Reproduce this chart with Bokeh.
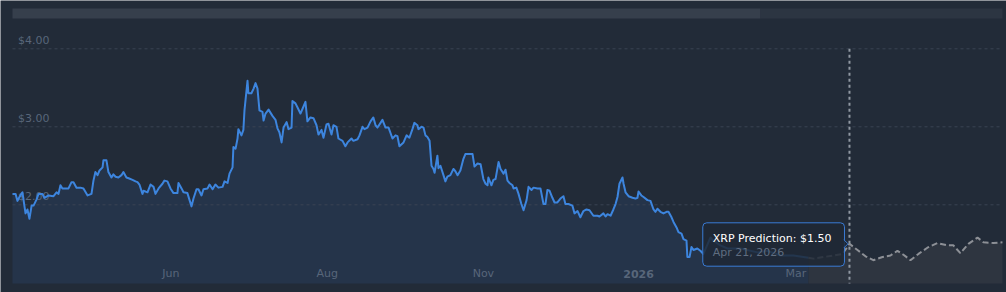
from bokeh.plotting import figure
from bokeh.models import Range1d, Quad
from bokeh.core.properties import value
from bokeh.embed import file_html
from bokeh.resources import INLINE

# ---------------- data (days since start, USD) ----------------
hist_day = [0, 1.4, 2.3, 3.2, 4.1, 4.6, 5.1, 6.0, 6.9, 7.8,
            8.8, 9.7, 11.1, 12.0, 13.8, 14.7, 16.6, 18.9, 20.3, 21.2,
            22.1, 23.0, 24.4, 25.8, 27.2, 28.1, 29.5, 31.3, 32.7, 34.6,
            36.4, 37.3, 38.2, 39.2, 40.1, 41.5, 41.9, 43.3, 44.2, 45.6,
            46.5, 47.5, 48.8, 50.2, 51.1, 52.5, 53.5, 55.3, 56.7, 57.6,
            58.5, 59.9, 60.4, 62.2, 63.6, 65.0, 65.9, 67.3, 69.1, 70.0,
            71.4, 72.8, 74.2, 76.0, 76.5, 77.9, 78.8, 80.6, 81.6, 82.5,
            83.4, 84.8, 85.7, 87.1, 88.0, 89.9, 90.8, 92.2, 93.5, 94.9,
            96.8, 97.7, 99.1, 100.0, 101.4, 101.8, 102.8, 103.7, 104.1, 105.5,
            106.4, 106.9, 108.3, 108.7, 110.1, 111.1, 112.0, 112.9, 113.8, 115.2,
            115.7, 116.6, 118.0, 119.8, 121.2, 122.1, 123.0, 124.0, 124.9, 126.3,
            127.2, 128.6, 129.0, 130.4, 131.3, 132.7, 134.1, 135.0, 135.9, 137.3,
            138.7, 140.1, 141.0, 142.4, 143.3, 144.7, 145.6, 147.0, 147.9, 149.3,
            150.2, 152.1, 153.4, 154.4, 156.2, 157.1, 159.0, 159.9, 161.3, 162.2,
            163.6, 165.0, 166.3, 167.3, 168.2, 169.6, 170.5, 171.9, 173.3, 175.1,
            176.5, 177.4, 178.3, 180.2, 181.6, 182.9, 184.3, 185.2, 186.6, 187.1,
            188.5, 189.4, 190.3, 191.2, 192.2, 193.1, 194.0, 194.5, 195.8, 196.3,
            197.2, 198.6, 199.5, 200.4, 201.8, 203.2, 204.1, 205.1, 206.4, 207.8,
            208.7, 210.1, 212.0, 212.9, 214.3, 215.7, 217.0, 218.0, 218.9, 219.3,
            220.7, 221.6, 222.6, 224.0, 224.9, 226.3, 227.2, 228.1, 229.0, 230.4,
            230.9, 232.2, 233.2, 234.5, 235.5, 236.9, 237.8, 239.2, 240.1, 241.9,
            243.3, 244.7, 245.6, 246.5, 247.5, 248.8, 249.8, 251.1, 252.5, 253.9,
            254.8, 256.2, 258.0, 259.0, 260.4, 261.7, 263.1, 264.5, 265.9, 267.7,
            269.6, 270.5, 272.3, 273.3, 274.2, 275.6, 276.9, 277.9, 278.8, 279.7,
            281.1, 281.6, 282.5, 283.9, 285.7, 287.1, 288.0, 288.5, 289.8, 290.8,
            292.6, 294.0, 295.4, 296.3, 297.2, 298.6, 300.0, 301.4, 302.3, 303.7,
            304.6, 306.0, 306.9, 308.3, 309.2, 310.6, 311.0, 312.0, 312.9, 313.8,
            315.6, 317.0, 318.4, 321.6, 323.0, 326.2, 329.5, 335.5, 343.3, 347.9,
            353.9, 359.9, 364.5, 366.8]

hist_price = [2.14, 2.14, 2.05, 2.10, 2.14, 2.16, 2.06, 1.89, 1.94, 1.82,
              1.99, 1.99, 2.07, 2.14, 2.14, 2.09, 2.12, 2.11, 2.16, 2.14,
              2.25, 2.21, 2.21, 2.21, 2.29, 2.29, 2.22, 2.22, 2.21, 2.12,
              2.14, 2.31, 2.42, 2.38, 2.44, 2.48, 2.57, 2.57, 2.42, 2.35,
              2.39, 2.36, 2.35, 2.38, 2.42, 2.35, 2.34, 2.32, 2.30, 2.29,
              2.26, 2.14, 2.18, 2.16, 2.26, 2.23, 2.14, 2.21, 2.27, 2.31,
              2.30, 2.21, 2.15, 2.15, 2.28, 2.21, 2.16, 2.15, 2.06, 1.98,
              2.08, 2.20, 2.20, 2.12, 2.20, 2.21, 2.26, 2.20, 2.26, 2.22,
              2.23, 2.30, 2.28, 2.40, 2.48, 2.74, 2.72, 2.85, 2.97, 2.89,
              2.96, 3.21, 3.59, 3.43, 3.43, 3.49, 3.56, 3.49, 3.21, 3.19,
              3.08, 3.17, 3.22, 3.14, 3.09, 2.98, 2.93, 2.80, 2.99, 3.06,
              2.97, 2.99, 3.33, 3.30, 3.25, 3.17, 3.26, 3.32, 3.07, 3.12,
              3.11, 3.02, 2.90, 2.96, 2.86, 3.03, 3.04, 2.90, 3.02, 3.00,
              2.85, 2.82, 2.75, 2.80, 2.85, 2.82, 2.84, 2.89, 3.00, 2.97,
              2.99, 3.07, 3.12, 3.02, 2.99, 3.05, 3.09, 2.99, 2.99, 2.85,
              2.89, 2.88, 2.75, 2.80, 2.89, 2.86, 2.97, 3.05, 3.02, 2.97,
              3.00, 2.99, 2.89, 2.87, 2.82, 2.50, 2.46, 2.41, 2.63, 2.47,
              2.50, 2.38, 2.30, 2.36, 2.38, 2.46, 2.43, 2.38, 2.44, 2.59,
              2.65, 2.65, 2.65, 2.49, 2.53, 2.52, 2.33, 2.27, 2.25, 2.35,
              2.25, 2.32, 2.33, 2.55, 2.46, 2.40, 2.45, 2.31, 2.28, 2.25,
              2.21, 2.22, 2.14, 2.01, 1.93, 2.06, 2.23, 2.19, 2.22, 2.21,
              2.21, 2.01, 2.01, 2.19, 2.18, 2.09, 2.03, 2.03, 2.08, 2.11,
              2.01, 2.01, 1.99, 1.89, 1.92, 1.84, 1.92, 1.94, 1.93, 1.86,
              1.86, 1.85, 1.89, 1.85, 1.88, 1.86, 1.94, 2.01, 2.10, 2.27,
              2.35, 2.27, 2.16, 2.11, 2.09, 2.08, 2.09, 2.17, 2.12, 2.10,
              2.06, 2.05, 1.94, 1.91, 1.95, 1.91, 1.89, 1.91, 1.91, 1.84,
              1.78, 1.71, 1.65, 1.63, 1.56, 1.54, 1.33, 1.33, 1.46, 1.42,
              1.44, 1.41, 1.37, 1.58, 1.54, 1.48, 1.44, 1.44, 1.39, 1.41,
              1.35, 1.35, 1.33, 1.32]

pred_day = [366.8, 369.1, 373.7, 378.3, 382.5, 385.7, 389.4, 393.1, 396.7, 400.9,
            404.6, 407.8, 410.6, 413.8, 417.5, 421.6, 426.2, 430.8, 433.6, 436.8,
            440.5, 444.7, 447.4, 452.0, 456.2]
pred_price = [1.32, 1.31, 1.33, 1.35, 1.37, 1.50, 1.42, 1.34, 1.29, 1.33,
              1.35, 1.41, 1.36, 1.29, 1.37, 1.45, 1.51, 1.48, 1.48, 1.38,
              1.50, 1.58, 1.52, 1.51, 1.52]

grid_prices = [2.0, 3.0, 4.0]
grid_labels = ["$2.00", "$3.00", "$4.00"]

tick_days = [73, 145, 217, 288.5, 361]
tick_labels = ["Jun", "Aug", "Nov", "2026", "Mar"]
tick_bold = [False, False, False, True, False]

hover_index = 5
hover_series = "XRP Prediction"
hover_date = "Apr 21, 2026"

# ---------------- layout / style ----------------
W, H = 1006, 292
X0_PX, PX_PER_DAY = 12.0, 2.17
Y0_PX, PX_PER_USD = 360.3, 78.0


def day_at(px):
    return (px - X0_PX) / PX_PER_DAY


def usd_at(py):
    return (Y0_PX - py) / PX_PER_USD


def px_of(day):
    return X0_PX + day * PX_PER_DAY


def py_of(usd):
    return Y0_PX - usd * PX_PER_USD


BG = "#222b38"
SCROLL_A = "#363f4c"
SCROLL_B = "#2c3542"
GRID = "#3a4453"
BLUE = "#3d85de"
BLUE_FILL = "#25344a"
PRED_FILL = "#2e3540"
PRED_LINE = "#8d9096"
CROSS = "#9098a2"
LABEL = "#58667a"
TIP_FILL = "#1f2835"
TIP_BORDER = "#3a7bd5"
TIP_DATE = "#5f6d80"
FONT = "DejaVu Sans"

p = figure(width=W, height=H,
           x_range=Range1d(day_at(0), day_at(W)),
           y_range=Range1d(usd_at(H), usd_at(0)),
           output_backend="svg", toolbar_location=None,
           x_axis_location=None, y_axis_location=None,
           min_border=0, background_fill_color=BG, border_fill_color=BG,
           outline_line_color=None)
p.grid.visible = False

first, last = hist_day[0], pred_day[-1]
base = usd_at(283)

# navigator / scrollbar strip
split = day_at(760)
p.quad(left=[first, split], right=[split, last], top=usd_at(8), bottom=usd_at(18),
       fill_color=[SCROLL_A, SCROLL_B], line_color=None)

# area fills
p.varea(x=hist_day, y1=base, y2=hist_price, fill_color=BLUE_FILL)
p.varea(x=pred_day, y1=base, y2=pred_price, fill_color=PRED_FILL)

# grid lines
p.segment(x0=first, x1=last, y0=grid_prices, y1=grid_prices,
          line_color=GRID, line_width=1, line_dash="3 3")

# y labels (inside plot, above grid lines)
p.text(x=day_at(17.5), y=[g + 8.7 / PX_PER_USD for g in grid_prices], text=grid_labels,
       text_font=value(FONT), text_font_size="11px", text_color=LABEL,
       text_baseline="middle", text_align="left")

# x labels
norm = [i for i, b in enumerate(tick_bold) if not b]
bold = [i for i, b in enumerate(tick_bold) if b]
p.text(x=[tick_days[i] for i in norm], y=usd_at(273), text=[tick_labels[i] for i in norm],
       text_font=value(FONT), text_font_size="11px", text_color=LABEL,
       text_baseline="middle", text_align="center")
p.text(x=[tick_days[i] for i in bold], y=usd_at(273), text=[tick_labels[i] for i in bold],
       text_font=value(FONT), text_font_size="11px", text_color=LABEL,
       text_font_style="bold", text_baseline="middle", text_align="center")

# series lines
p.line(hist_day, hist_price, line_color=BLUE, line_width=2, line_join="round")
p.line(pred_day, pred_price, line_color=PRED_LINE, line_width=2, line_dash="6 3")

# crosshair
hx, hy = pred_day[hover_index], pred_price[hover_index]
p.segment(x0=hx, x1=hx, y0=max(grid_prices), y1=base,
          line_color=CROSS, line_width=2, line_dash="3 3")

# tooltip (drawn as glyphs, on top of everything)
hpx, hpy = px_of(hx), py_of(hy)
box_kw = {}
if "border_radius" in Quad.properties():
    box_kw["border_radius"] = 4
p.quad(left=day_at(hpx - 146.7), right=day_at(hpx - 5),
       top=usd_at(hpy - 21), bottom=usd_at(hpy + 22.4),
       fill_color=TIP_FILL, fill_alpha=0.85,
       line_color=TIP_BORDER, line_width=1, **box_kw)
ptr_x = [day_at(hpx - 5.5), day_at(hpx - 1.5), day_at(hpx - 5.5)]
ptr_y = [usd_at(hpy - 4), usd_at(hpy), usd_at(hpy + 4)]
p.patch(x=ptr_x, y=ptr_y, fill_color=TIP_FILL, fill_alpha=0.85, line_color=None)
p.line(x=ptr_x, y=ptr_y, line_color=TIP_BORDER, line_width=1)
p.text(x=day_at(hpx - 136.7), y=usd_at(hpy - 5.5),
       text=[f"{hover_series}: ${hy:.2f}"],
       text_font=value(FONT), text_font_size="11px", text_color="#ffffff",
       text_baseline="middle", text_align="left")
p.text(x=day_at(hpx - 136.7), y=usd_at(hpy + 8.4), text=[hover_date],
       text_font=value(FONT), text_font_size="11px", text_color=TIP_DATE,
       text_baseline="middle", text_align="left")

open("out.html", "w").write(file_html(p, INLINE))
